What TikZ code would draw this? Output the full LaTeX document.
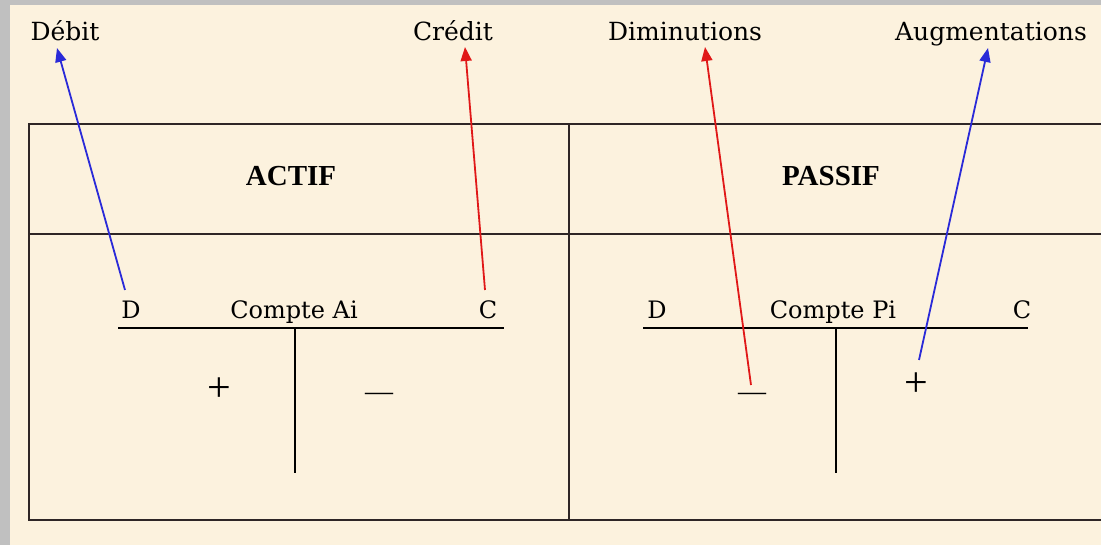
\documentclass[tikz,border=0pt]{standalone}
\usepackage{fontspec}
\setmainfont{DejaVu Serif}
\newfontfamily\timesf{Liberation Serif}
\usetikzlibrary{arrows.meta}
\definecolor{parch}{HTML}{FCF2DE}
\definecolor{framegray}{HTML}{C0C0C0}
\definecolor{tline}{HTML}{2E2626}
\definecolor{arrblue}{HTML}{2A2AD8}
\definecolor{arrred}{HTML}{E01818}
\tikzset{
  toplbl/.style={font=\fontsize{25}{30}\selectfont, inner sep=0pt, anchor=base},
  tlbl/.style={font=\fontsize{24}{28}\selectfont, inner sep=0pt, anchor=base},
  headlbl/.style={font=\timesf\bfseries\fontsize{29}{34}\selectfont, inner sep=0pt},
  plussign/.style={font=\timesf\fontsize{42}{46}\selectfont, inner sep=0pt, anchor=base},
  minussign/.style={font=\timesf\fontsize{28}{32}\selectfont, inner sep=0pt, anchor=base},
  tableline/.style={draw=tline, line width=1.6pt},
  tacc/.style={draw=black, line width=1.3pt},
  arrowline/.style={line width=1.8pt, -{Triangle[length=14pt,width=11pt]}},
}
\begin{document}
\begin{tikzpicture}[x=1pt,y=-1pt]
\useasboundingbox (0,0) rectangle (1101,545);
% background
\fill[parch] (0,0) rectangle (1101,545);
\fill[framegray] (0,0) rectangle (10,545);
\fill[framegray] (0,0) rectangle (1101,5);
% table
\draw[tableline] (1101,124) -- (29,124) -- (29,520) -- (1101,520);
\draw[tableline] (29,234) -- (1101,234);
\draw[tableline] (569,124) -- (569,520);
\node[headlbl] (actif) at (291,176) {ACTIF};
\node[headlbl] (passif) at (831,176) {PASSIF};
% top labels
\node[toplbl] (debit) at (65,41) {Débit};
\node[toplbl] (credit) at (453,41) {Crédit};
\node[toplbl] (dimin) at (685,41) {Diminutions};
\node[toplbl] (augm) at (991,41) {Augmentations};
% T account Ai
\coordinate (ailL) at (118,328);
\coordinate (ailR) at (504,328);
\coordinate (aivT) at (295,328);
\coordinate (aivB) at (295,473);
\draw[tacc] (ailL) -- (ailR);
\draw[tacc] (aivT) -- (aivB);
\node[tlbl] (aiD) at (131,319) {D};
\node[tlbl] (aiT) at (294,319) {Compte Ai};
\node[tlbl] (aiC) at (488,319) {C};
\node[plussign] (aiPlus) at (219,402) {+};
\node[minussign] (aiMinus) at (379,401) {—};
% T account Pi
\coordinate (pilL) at (643,328);
\coordinate (pilR) at (1028,328);
\coordinate (pivT) at (836,328);
\coordinate (pivB) at (836,473);
\draw[tacc] (pilL) -- (pilR);
\draw[tacc] (pivT) -- (pivB);
\node[tlbl] (piD) at (657,319) {D};
\node[tlbl] (piT) at (833,319) {Compte Pi};
\node[tlbl] (piC) at (1022,319) {C};
\node[minussign] (piMinus) at (752,401) {—};
\node[plussign] (piPlus) at (916,397) {+};
% arrows
\coordinate (sDeb) at (125,290);
\coordinate (tDeb) at (57,48);
\coordinate (sCre) at (485,290);
\coordinate (tCre) at (465,47);
\coordinate (sDim) at (751,385);
\coordinate (tDim) at (705,47);
\coordinate (sAug) at (919,360);
\coordinate (tAug) at (988,48);
\draw[arrowline, arrblue] (sDeb) -- (tDeb);
\draw[arrowline, arrred] (sCre) -- (tCre);
\draw[arrowline, arrred] (sDim) -- (tDim);
\draw[arrowline, arrblue] (sAug) -- (tAug);
\end{tikzpicture}
\end{document}
